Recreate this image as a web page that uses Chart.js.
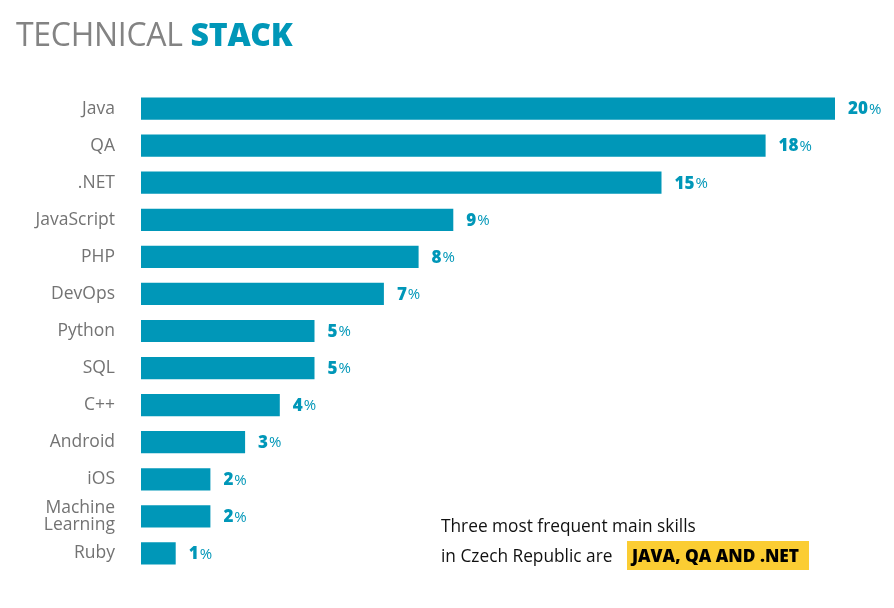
<!DOCTYPE html>
<html>
<head>
<meta charset="utf-8">
<script src="https://cdn.jsdelivr.net/npm/chart.js@4"></script>
<style>
  html, body { margin: 0; padding: 0; background: #fff; }
  #wrap { position: relative; width: 894px; height: 608px; font-family: "Open Sans", sans-serif; }
  #title { position: absolute; left: 16px; top: 12px; font-size: 32px; color: #838383; letter-spacing: -0.3px; }
  #title b { color: #0097b8; font-weight: 800; }
  #note { position: absolute; left: 441px; top: 511px; font-size: 17.3px; color: #111; line-height: 30px; }
  #note span { background: #fbcd33; font-weight: 800; padding: 3px 10px 3px 5px; margin-left: 10px; color: #000; }
  #box { position: absolute; left: 0; top: 0; width: 894px; height: 608px; }
</style>
</head>
<body>
<div id="wrap">
  <div id="box"><canvas id="techChart"></canvas></div>
  <div id="title">TECHNICAL <b>STACK</b></div>
  <div id="note">Three most frequent main skills<br>in Czech Republic are <span>JAVA, QA AND .NET</span></div>
</div>
<script>
const skills = ['Java', 'QA', '.NET', 'JavaScript', 'PHP', 'DevOps', 'Python', 'SQL', 'C++', 'Android', 'iOS', ['Machine', 'Learning'], 'Ruby'];
const shares = [20, 18, 15, 9, 8, 7, 5, 5, 4, 3, 2, 2, 1];

const blue = '#0097b8';

// number in bold + thin "%" after each bar
const valueLabels = {
    id: 'valueLabels',
    afterDatasetsDraw(chart) {
        const ctx = chart.ctx;
        const meta = chart.getDatasetMeta(0);
        ctx.save();
        ctx.textBaseline = 'middle';
        ctx.fillStyle = blue;
        meta.data.forEach((bar, i) => {
            const num = String(chart.data.datasets[0].data[i]);
            let x = bar.x + 13;
            const y = bar.y + 1;
            ctx.font = '800 17px "Open Sans"';
            ctx.fillText(num, x, y);
            x += ctx.measureText(num).width + 1;
            ctx.font = '400 15px "Open Sans"';
            ctx.fillText('%', x, y);
        });
        ctx.restore();
    }
};

const ctx = document.getElementById('techChart');

const techData = {
    labels: skills,
    datasets: [{
        data: shares,
        backgroundColor: blue,
        borderWidth: 0,
        barPercentage: 0.6,
        categoryPercentage: 1
    }]
};

const techConfig = {
    type: 'bar',
    data: techData,
    plugins: [valueLabels],
    options: {
        indexAxis: 'y',
        responsive: true,
        maintainAspectRatio: false,
        animation: false,
        layout: {
            padding: { top: 90, bottom: 36, right: 59, left: 0 }
        },
        scales: {
            x: {
                display: false,
                min: 0,
                max: 20
            },
            y: {
                grid: { display: false },
                border: { display: false },
                afterFit: (axis) => { axis.width = 141; },
                ticks: {
                    autoSkip: false,
                    padding: 18,
                    color: '#737373',
                    font: { family: 'Open Sans', size: 17.5, lineHeight: 0.98 }
                }
            }
        },
        plugins: {
            legend: { display: false },
            tooltip: { enabled: false }
        }
    }
};

const techChart = new Chart(ctx, techConfig);
</script>
</body>
</html>
